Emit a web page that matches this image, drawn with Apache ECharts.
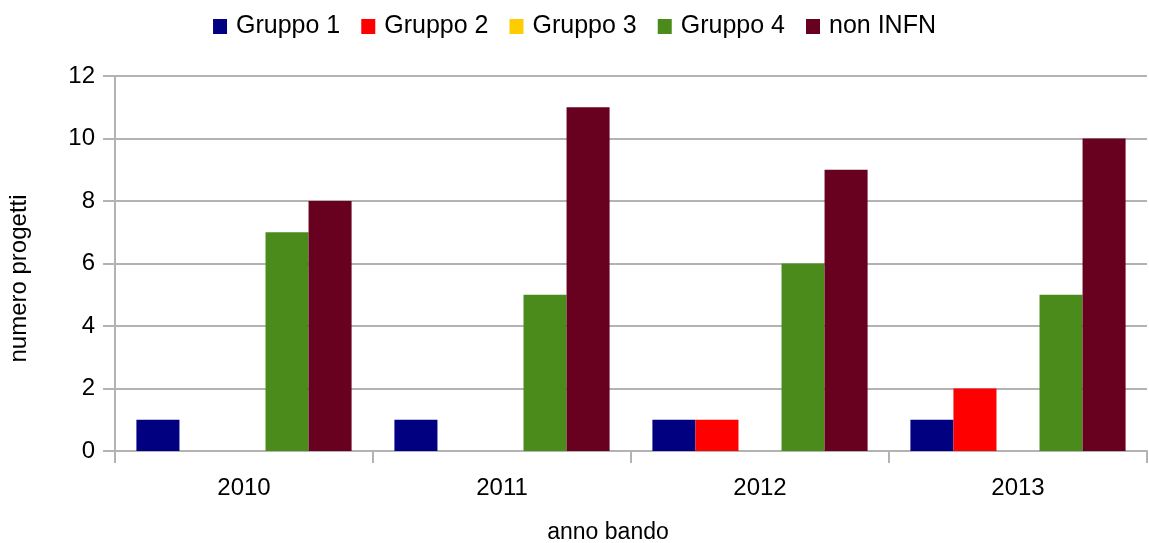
<!DOCTYPE html>
<html><head><meta charset="utf-8">
<script src="https://cdn.jsdelivr.net/npm/echarts@6/dist/echarts.min.js"></script>
<style>html,body{margin:0;padding:0;background:#fff}#c{width:1149px;height:543px}</style>
</head><body><div id="c"></div>
<script>
const categories = ['2010', '2011', '2012', '2013'];
const gruppo1 = [1, 1, 1, 1];
const gruppo2 = [0, 0, 1, 2];
const gruppo3 = [0, 0, 0, 0];
const gruppo4 = [7, 5, 6, 5];
const nonINFN = [8, 11, 9, 10];
const seriesNames = ['Gruppo 1', 'Gruppo 2', 'Gruppo 3', 'Gruppo 4', 'non INFN'];
const seriesData = [gruppo1, gruppo2, gruppo3, gruppo4, nonINFN];
const colors = ['#000080', '#ff0000', '#ffcc00', '#4a8b1c', '#680020'];

const chart = echarts.init(document.getElementById('c'));
const font = 'Liberation Sans';
chart.setOption({
  animation: false,
  color: colors,
  textStyle: { fontFamily: font },
  legend: {
    top: 9, left: 'center',
    itemWidth: 14, itemHeight: 15, itemGap: 21,
    icon: 'rect',
    textStyle: { fontFamily: font, fontSize: 25, color: '#000', padding: [0, 0, 0, 4] },
    data: seriesNames
  },
  grid: { left: 115, right: 2, top: 76, bottom: 92, containLabel: false, outerBoundsMode: 'none' },
  xAxis: {
    type: 'category', data: categories,
    axisLine: { lineStyle: { color: '#b3b3b3', width: 2 } },
    axisTick: { show: true, length: 12, lineStyle: { color: '#b3b3b3', width: 2 } },
    axisLabel: { fontFamily: font, fontSize: 24, color: '#000', margin: 25 },
    name: 'anno bando', nameLocation: 'middle', nameGap: 70,
    nameTextStyle: { fontFamily: font, fontSize: 23, color: '#000', padding: [0, 46, 0, 0] }
  },
  yAxis: {
    type: 'value', min: 0, max: 12, interval: 2,
    axisLine: { show: true, lineStyle: { color: '#b3b3b3', width: 2 } },
    axisTick: { show: true, length: 12, lineStyle: { color: '#b3b3b3', width: 2 } },
    splitLine: { lineStyle: { color: '#b3b3b3', width: 2 } },
    axisLabel: { fontFamily: font, fontSize: 24, color: '#000', margin: 20 },
    name: 'numero progetti', nameLocation: 'middle', nameGap: 84, nameRotate: 90,
    nameTextStyle: { fontFamily: font, fontSize: 24, color: '#000', padding: [0, 30, 0, 0] }
  },
  series: seriesNames.map((n, i) => ({
    name: n, type: 'bar', data: seriesData[i],
    barGap: '0%', barCategoryGap: '16.6%'
  }))
});
</script></body></html>
